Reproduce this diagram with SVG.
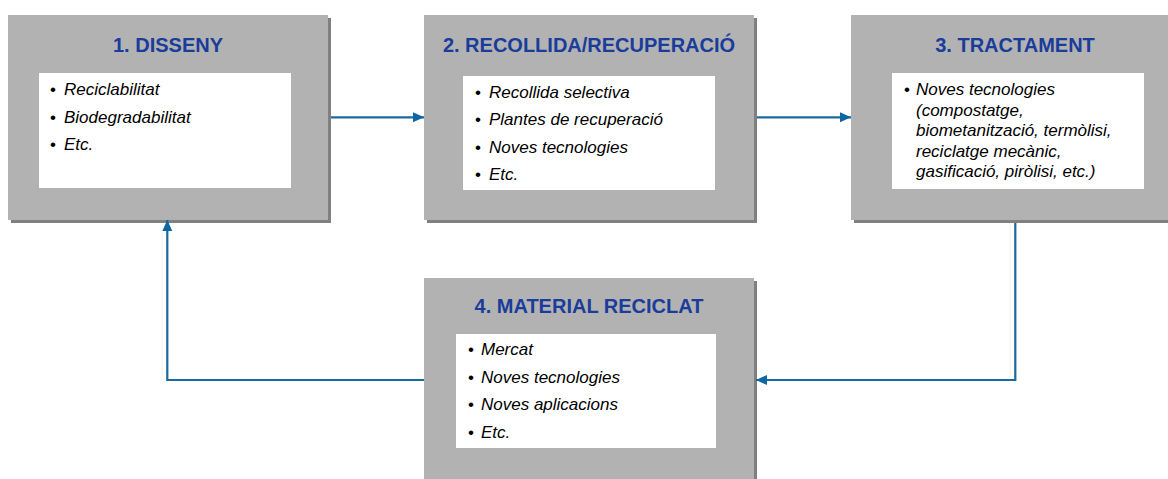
<svg xmlns="http://www.w3.org/2000/svg" width="1168" height="479" viewBox="0 0 1168 479">
<style>
.box{fill:#b2b2b2}
.shadow{fill:#808080}
.inner{fill:#ffffff}
.title{font-family:"Liberation Sans",Arial,sans-serif;font-weight:bold;font-size:20px;fill:#1a3c9a;text-anchor:middle}
.item{font-family:"Liberation Sans",Arial,sans-serif;font-style:italic;font-size:17px;fill:#000000}
.bul{font-family:"Liberation Sans",Arial,sans-serif;font-size:17px;fill:#000000;text-anchor:middle}
.conn{fill:none;stroke:#1a6aa0;stroke-width:2.2}
</style>
<defs>
<marker id="arrow" markerUnits="userSpaceOnUse" markerWidth="12" markerHeight="12" viewBox="0 0 12 12" refX="11" refY="6" orient="auto">
<path d="M0,1 L11,6 L0,11 Z" fill="#0f66a0"/>
</marker>
</defs>
<rect width="1168" height="479" fill="#ffffff"/>

<g id="node1">
<rect class="shadow" x="11" y="18" width="320" height="205"/>
<rect class="box" x="8" y="15" width="320" height="205"/>
<rect class="inner" x="39" y="73" width="252" height="115"/>
<text class="title" x="168" y="52">1. DISSENY</text>
<text class="bul" x="53" y="95">•</text><text class="item" x="64" y="95">Reciclabilitat</text>
<text class="bul" x="53" y="122.5">•</text><text class="item" x="64" y="122.5">Biodegradabilitat</text>
<text class="bul" x="53" y="150">•</text><text class="item" x="64" y="150">Etc.</text>
</g>

<g id="node2">
<rect class="shadow" x="427" y="18" width="330" height="205"/>
<rect class="box" x="424" y="15" width="330" height="205"/>
<rect class="inner" x="463" y="76" width="252" height="114"/>
<text class="title" x="589" y="52">2. RECOLLIDA/RECUPERACIÓ</text>
<text class="bul" x="478" y="97.5">•</text><text class="item" x="489" y="97.5">Recollida selectiva</text>
<text class="bul" x="478" y="125">•</text><text class="item" x="489" y="125">Plantes de recuperació</text>
<text class="bul" x="478" y="152.5">•</text><text class="item" x="489" y="152.5">Noves tecnologies</text>
<text class="bul" x="478" y="180">•</text><text class="item" x="489" y="180">Etc.</text>
</g>

<g id="node3">
<rect class="shadow" x="854" y="18" width="330" height="205"/>
<rect class="box" x="851" y="15" width="330" height="205"/>
<rect class="inner" x="892" y="73" width="252" height="116"/>
<text class="title" x="1015" y="52">3. TRACTAMENT</text>
<text class="bul" x="907" y="95">•</text><text class="item" x="916" y="95">Noves tecnologies</text>
<text class="item" x="916" y="115.6">(compostatge,</text>
<text class="item" x="916" y="136.2">biometanització, termòlisi,</text>
<text class="item" x="916" y="156.8">reciclatge mecànic,</text>
<text class="item" x="916" y="177.4">gasificació, piròlisi, etc.)</text>
</g>

<g id="node4">
<rect class="shadow" x="427" y="281" width="330" height="210"/>
<rect class="box" x="424" y="278" width="330" height="210"/>
<rect class="inner" x="456" y="334" width="260" height="114"/>
<text class="title" x="589" y="313">4. MATERIAL RECICLAT</text>
<text class="bul" x="471" y="355">•</text><text class="item" x="481" y="355">Mercat</text>
<text class="bul" x="471" y="382.5">•</text><text class="item" x="481" y="382.5">Noves tecnologies</text>
<text class="bul" x="471" y="410">•</text><text class="item" x="481" y="410">Noves aplicacions</text>
<text class="bul" x="471" y="437.5">•</text><text class="item" x="481" y="437.5">Etc.</text>
</g>

<g id="connectors">
<path class="conn" d="M331,117.3 H424" marker-end="url(#arrow)"/>
<path class="conn" d="M757,117.3 H851" marker-end="url(#arrow)"/>
<path class="conn" d="M1015.3,223 V380 H756" marker-end="url(#arrow)"/>
<path class="conn" d="M424,380 H167.3 V220" marker-end="url(#arrow)"/>
</g>
</svg>
